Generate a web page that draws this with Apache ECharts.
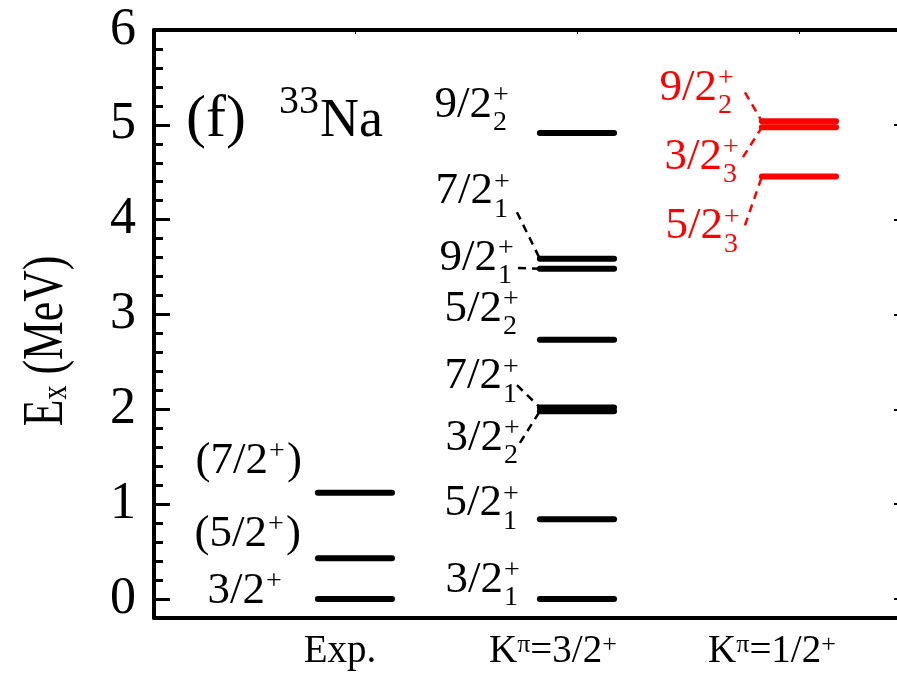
<!DOCTYPE html>
<html>
<head>
<meta charset="utf-8">
<script src="https://cdn.jsdelivr.net/npm/echarts@6/dist/echarts.min.js"></script>
<style>html,body{margin:0;padding:0;background:#fff}#c{width:897px;height:675px}</style>
</head>
<body>
<div id="c"></div>
<script>
// ---------- data ----------
const columns = ['Exp.', 'K\u03c0=3/2+', 'K\u03c0=1/2+'];
const yTicks = [0, 1, 2, 3, 4, 5, 6];
const yMinorTicks = [0, 0.2, 0.4, 0.6, 0.8, 1, 1.2, 1.4, 1.6, 1.8, 2, 2.2, 2.4, 2.6, 2.8, 3,
  3.2, 3.4, 3.6, 3.8, 4, 4.2, 4.4, 4.6, 4.8, 5, 5.2, 5.4, 5.6, 5.8, 6];

// Experiment
const expEnergy = [0, 0.43, 1.12];
const expSpin = ['3/2', '5/2', '7/2'];
const expTentative = [false, true, true];

// K^pi = 3/2+ band
const k32Energy = [0, 0.842, 1.98, 2.02, 2.735, 3.482, 3.587, 4.913];
const k32Spin = ['3/2', '5/2', '3/2', '7/2', '5/2', '9/2', '7/2', '9/2'];
const k32Index = [1, 1, 2, 1, 2, 1, 1, 2];

// K^pi = 1/2+ band
const k12Energy = [4.455, 4.974, 5.037];
const k12Spin = ['5/2', '3/2', '9/2'];
const k12Index = [3, 3, 2];

// ---------- label layout (not data) ----------
const expLabelAt = [0.084, 0.685, 1.455];
const expLabelDx = [-90, -88, -87];
const k32LabelAt = [0.2, 1.01, 1.70, 2.35, 3.06, 3.595, 4.30, 5.21];
const k32LabelDx = [-74, -75, -74, -75, -75, -80, -84, -85];
const k32Conn = [null, null, [17, 5], [15, 9], null, [21, 10], [24, 21], null];
const k12LabelAt = [3.93, 4.66, 5.39];
const k12LabelDx = [-76, -77, -82];
const k12Conn = [[22, -1], [21, 0], [28, 4.5]];

const FONT = 'Liberation Serif';
const HALF = 0.167;
const MAIN = 45, SMALL = 28;

function levelRenderer(spins, indexes, tentative, labelAt, labelDx, conn, color) {
  return function (params, api) {
    const col = api.value(0), E = api.value(1), i = api.value(2);
    const a = api.coord([col - HALF, E]);
    const b = api.coord([col + HALF, E]);
    const c = api.coord([col, labelAt[i]]);
    const ax = c[0] + labelDx[i], ay = c[1];
    const tent = tentative && tentative[i];
    const kids = [
      { type: 'line', shape: { x1: a[0], y1: a[1], x2: b[0], y2: b[1] },
        style: { stroke: color, lineWidth: 6, lineCap: 'round' } },
      { type: 'text', x: ax, y: ay,
        style: { text: (tent ? '(' : '') + spins[i], fontSize: MAIN, fontFamily: FONT, fill: color, align: 'right', verticalAlign: 'middle' } },
      { type: 'text', x: ax + 1, y: ay - 9,
        style: { text: '+', fontSize: SMALL, fontFamily: FONT, fill: color, align: 'left', verticalAlign: 'middle' } }
    ];
    if (indexes) {
      kids.push({ type: 'text', x: ax + 1, y: ay + 18,
        style: { text: String(indexes[i]), fontSize: SMALL, fontFamily: FONT, fill: color, align: 'left', verticalAlign: 'middle' } });
    }
    if (tent) {
      kids.push({ type: 'text', x: ax + 19, y: ay,
        style: { text: ')', fontSize: MAIN, fontFamily: FONT, fill: color, align: 'left', verticalAlign: 'middle' } });
    }
    const cn = conn && conn[i];
    if (cn) {
      kids.push({ type: 'line', shape: { x1: ax + cn[0], y1: ay + cn[1], x2: a[0], y2: a[1] },
        style: { stroke: color, lineWidth: 2.5, lineDash: [8, 6] } });
    }
    return { type: 'group', children: kids };
  };
}

function colLabel(t) {
  return '{n|' + t.replace('\u03c0', '}{s|\u03c0}{n|').replace(/\+$/, '}{s|+}{n|') + '}';
}
const colShift = [30, 48, 54];

const X_MIN = 0.095, X_MAX = 3.455, Y_MIN = -0.2, Y_MAX = 6;
const axisLine = { show: true, onZero: false, lineStyle: { color: '#000', width: 4 } };

const chart = echarts.init(document.getElementById('c'), null, { renderer: 'canvas' });
chart.setOption({
  backgroundColor: '#fff',
  animation: false,
  grid: { left: 154, top: 30, width: 746, height: 588, containLabel: false, outerBoundsMode: 'none' },
  xAxis: [
    { type: 'value', position: 'bottom', min: X_MIN, max: X_MAX, axisLine: axisLine,
      axisTick: { show: false }, splitLine: { show: false },
      axisLabel: {
        customValues: [1, 2, 3], margin: 14,
        formatter: function (v) {
          const i = Math.round(v) - 1;
          return colLabel(columns[i]) + '{g' + i + '| }';
        },
        rich: {
          n: { fontSize: 39, fontFamily: FONT, color: '#000' },
          s: { fontSize: 26, fontFamily: FONT, color: '#000', verticalAlign: 'top' },
          g0: { width: colShift[0] }, g1: { width: colShift[1] }, g2: { width: colShift[2] }
        }
      } },
    { type: 'value', position: 'top', min: X_MIN, max: X_MAX, axisLine: axisLine,
      axisTick: { show: true, inside: true, length: 4, customValues: [1, 2, 3], lineStyle: { color: '#000', width: 1 } },
      axisLabel: { show: false }, splitLine: { show: false } }
  ],
  yAxis: [
    { type: 'value', position: 'left', min: Y_MIN, max: Y_MAX, axisLine: axisLine,
      axisTick: { show: true, inside: true, length: 16, customValues: yTicks, lineStyle: { color: '#000', width: 3 } },
      axisLabel: { customValues: yTicks, margin: 18, fontSize: 52, fontFamily: FONT, color: '#000',
        formatter: function (v) { return String(v); } },
      splitLine: { show: false } },
    { type: 'value', position: 'left', min: Y_MIN, max: Y_MAX, axisLine: { show: false, onZero: false },
      axisTick: { show: true, inside: true, length: 9, customValues: yMinorTicks, lineStyle: { color: '#000', width: 3 } },
      axisLabel: { show: false }, splitLine: { show: false } },
    { type: 'value', position: 'right', min: Y_MIN, max: Y_MAX, axisLine: axisLine,
      axisTick: { show: true, inside: true, length: 6, customValues: yTicks, lineStyle: { color: '#000', width: 2 } },
      axisLabel: { show: false }, splitLine: { show: false } }
  ],
  graphic: [
    { type: 'text', x: 186, y: 120, style: { text: '(f)', fontSize: 60, fontFamily: FONT, fill: '#000', align: 'left', verticalAlign: 'middle' } },
    { type: 'text', x: 279, y: 102, style: { text: '33', fontSize: 40, fontFamily: FONT, fill: '#000', align: 'left', verticalAlign: 'middle' } },
    { type: 'text', x: 320, y: 122, style: { text: 'Na', fontSize: 54, fontFamily: FONT, fill: '#000', align: 'left', verticalAlign: 'middle' } },
    { type: 'text', x: 47, y: 341, rotation: Math.PI / 2, scaleX: 0.78,
      style: { text: '{m|E}{s|x}{m| (MeV)}', align: 'center', verticalAlign: 'middle',
        rich: { m: { fontSize: 56, fontFamily: FONT, fill: '#000' },
                s: { fontSize: 36, fontFamily: FONT, fill: '#000', verticalAlign: 'bottom' } } } }
  ],
  series: [
    { type: 'custom', name: 'Exp.', xAxisIndex: 0, yAxisIndex: 0, clip: false, silent: true,
      renderItem: levelRenderer(expSpin, null, expTentative, expLabelAt, expLabelDx, null, '#000'),
      data: expEnergy.map(function (e, i) { return [1, e, i]; }) },
    { type: 'custom', name: columns[1], xAxisIndex: 0, yAxisIndex: 0, clip: false, silent: true,
      renderItem: levelRenderer(k32Spin, k32Index, null, k32LabelAt, k32LabelDx, k32Conn, '#000'),
      data: k32Energy.map(function (e, i) { return [2, e, i]; }) },
    { type: 'custom', name: columns[2], xAxisIndex: 0, yAxisIndex: 0, clip: false, silent: true,
      renderItem: levelRenderer(k12Spin, k12Index, null, k12LabelAt, k12LabelDx, k12Conn, '#ff0000'),
      data: k12Energy.map(function (e, i) { return [3, e, i]; }) }
  ]
});
</script>
</body>
</html>
